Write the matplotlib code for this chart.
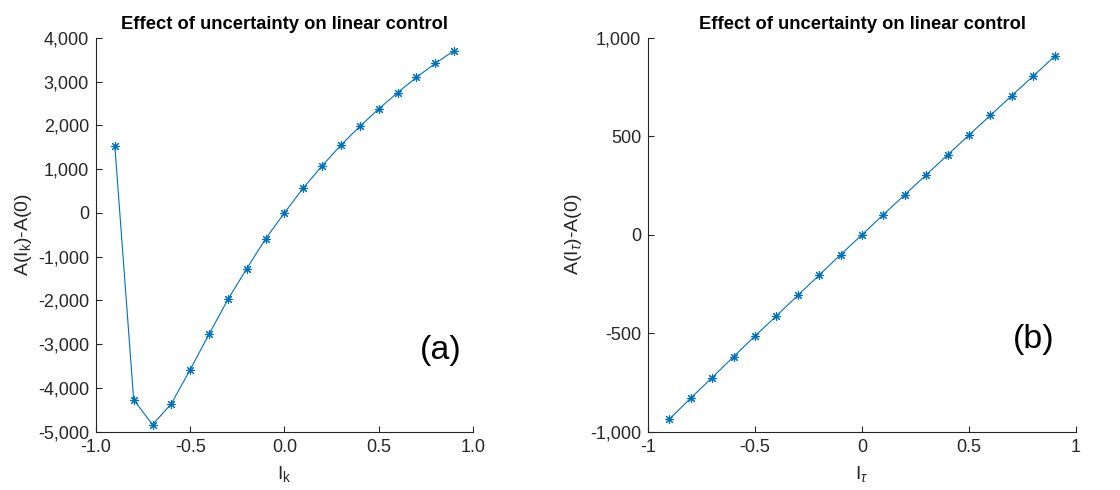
import matplotlib
matplotlib.use("Agg")
import matplotlib.pyplot as plt
import matplotlib.ticker as mticker

plt.rcParams["font.family"] = ["Liberation Sans", "DejaVu Sans"]
plt.rcParams["mathtext.fontset"] = "custom"
plt.rcParams["mathtext.rm"] = "Liberation Sans"
plt.rcParams["mathtext.it"] = "Liberation Sans:italic"
plt.rcParams["axes.unicode_minus"] = False

# data
l_k = [-0.9, -0.8, -0.7, -0.6, -0.5, -0.4, -0.3, -0.2, -0.1, 0.0,
       0.1, 0.2, 0.3, 0.4, 0.5, 0.6, 0.7, 0.8, 0.9]
delta_a_k = [1530, -4270, -4840, -4360, -3580, -2770, -1980, -1272, -594, 0,
             570, 1075, 1550, 1975, 2375, 2745, 3095, 3415, 3705]

l_tau = [-0.9, -0.8, -0.7, -0.6, -0.5, -0.4, -0.3, -0.2, -0.1, 0.0,
         0.1, 0.2, 0.3, 0.4, 0.5, 0.6, 0.7, 0.8, 0.9]
delta_a_tau = [-936, -829, -725, -619, -514, -412, -308, -205, -101, 0,
               102, 203, 304, 405, 506, 606, 706, 805, 906]

title = "Effect of uncertainty on linear control"
line_color = "#0072BD"
axis_color = "#262626"
asterisk = (8, 2, 0)

fig = plt.figure(figsize=(11.2, 4.9), dpi=100)
ax1 = fig.add_axes([0.0857, 0.119, 0.3366, 0.804])
ax2 = fig.add_axes([0.5786, 0.119, 0.3821, 0.804])


def style_axes(ax):
    for side in ("top", "right"):
        ax.spines[side].set_visible(False)
    for side in ("left", "bottom"):
        ax.spines[side].set_color(axis_color)
        ax.spines[side].set_linewidth(0.8)
    ax.tick_params(direction="in", length=4, width=0.8, colors=axis_color,
                   labelsize=13, pad=5)
    ax.set_title(title, fontsize=13.2, fontweight="bold", pad=6)


# (a)
ax1.plot(l_k, delta_a_k, color=line_color, lw=0.8, marker=asterisk,
         markersize=6.5, markeredgewidth=0.8)
ax1.set_xlim(-1, 1)
ax1.set_ylim(-5000, 4000)
ax1.set_xticks([-1.0, -0.5, 0.0, 0.5, 1.0])
ax1.xaxis.set_major_formatter(mticker.FormatStrFormatter("%.1f"))
ax1.set_yticks(range(-5000, 4001, 1000))
ax1.yaxis.set_major_formatter(mticker.StrMethodFormatter("{x:,.0f}"))
style_axes(ax1)
ax1.set_xlabel(r"I$_\mathregular{k}$", fontsize=14, color=axis_color, labelpad=6)
ax1.set_ylabel(r"A(I$_\mathregular{k}$)-A(0)", fontsize=14, color=axis_color, labelpad=3)
ax1.text(0.97, 0.205, "(a)", transform=ax1.transAxes, fontsize=24.5,
         ha="right", va="center", color="black")

# (b)
ax2.plot(l_tau, delta_a_tau, color=line_color, lw=0.8, marker=asterisk,
         markersize=6.5, markeredgewidth=0.8)
ax2.set_xlim(-1, 1)
ax2.set_ylim(-1000, 1000)
ax2.set_xticks([-1, -0.5, 0, 0.5, 1])
ax2.xaxis.set_major_formatter(mticker.FormatStrFormatter("%g"))
ax2.set_yticks([-1000, -500, 0, 500, 1000])
ax2.yaxis.set_major_formatter(mticker.StrMethodFormatter("{x:,.0f}"))
style_axes(ax2)
ax2.set_xlabel(r"I$_\tau$", fontsize=14, color=axis_color, labelpad=6)
ax2.set_ylabel(r"A(I$_\tau$)-A(0)", fontsize=14, color=axis_color, labelpad=4)
ax2.text(0.95, 0.235, "(b)", transform=ax2.transAxes, fontsize=24.5,
         ha="right", va="center", color="black")

fig.savefig("out.png", dpi=100)
plt.close(fig)
